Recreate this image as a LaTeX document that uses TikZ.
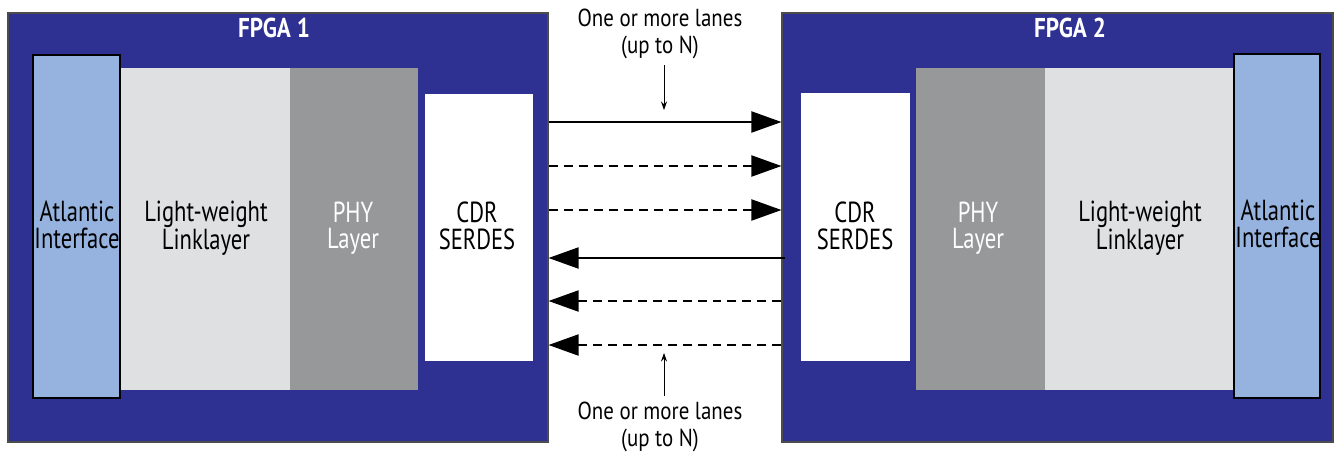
\documentclass[tikz,border=0pt]{standalone}
\usepackage{fontspec}
\setmainfont{PT Sans}[FakeStretch=0.85]
\newfontfamily\bodyfont{PT Sans}[FakeStretch=0.78]
\usetikzlibrary{fit,arrows.meta}
\definecolor{fpgablue}{HTML}{2E3192}
\definecolor{atlblue}{HTML}{95B3DE}
\definecolor{llgray}{HTML}{DFE0E2}
\definecolor{phygray}{HTML}{97989A}
\begin{document}
\begin{tikzpicture}[x=0.02cm,y=-0.02cm,
  font=\fontsize{14.5}{13.5}\selectfont,
  fpga/.style={fill=fpgablue, draw=black!70, line width=0.6pt, inner sep=0pt},
  title/.style={text=white, font=\fontsize{15.5}{15}\selectfont\bfseries},
  layer/.style={inner sep=0pt},
  atl/.style={layer, fill=atlblue, draw=black, line width=0.7pt},
  ll/.style={layer, fill=llgray},
  phy/.style={layer, fill=phygray},
  cdr/.style={layer, fill=white},
  ltext/.style={align=center, inner sep=0pt, font=\bodyfont\fontsize{16.5}{15}\selectfont},
  lane/.style={line width=1.1pt, -{Triangle[length=0.6cm,width=0.42cm]}},
  dlane/.style={lane, dash pattern=on 0.18cm off 0.12cm},
  note/.style={align=center, font=\fontsize{14}{15.5}\selectfont},
  pointer/.style={line width=0.4pt, -{Stealth[length=0.17cm,width=0.12cm]}}
]
\useasboundingbox (0,0) rectangle (1341,457);
% FPGA 1
\node[fpga, fit={(8,13) (548,442)}] (fpga1) {};
\node[title] (t1) at (274,28) {FPGA 1};
\node[ll,  fit={(120,68) (290,390)}] (ll1) {};
\node[phy, fit={(290,68) (418,390)}] (phy1) {};
\node[atl, fit={(33,55) (120,398)}] (atl1) {};
\node[cdr, fit={(425,94) (533,361)}] (cdr1) {};
\node[ltext] (ll1t) at (206,228) {Light-weight\\Linklayer};
\node[ltext, text=white] (phy1t) at (353,228) {PHY\\Layer};
\node[ltext] (atl1t) at (77,225) {Atlantic\\Interface};
\node[ltext] (cdr1t) at (477,226) {CDR\\SERDES};
% FPGA 2
\node[fpga, fit={(782,13) (1333,442)}] (fpga2) {};
\node[title] (t2) at (1070,28) {FPGA 2};
\node[cdr, fit={(801,93) (910,361)}] (cdr2) {};
\node[phy, fit={(916,68) (1045,390)}] (phy2) {};
\node[ll,  fit={(1045,68) (1234,390)}] (ll2) {};
\node[atl, fit={(1234,54) (1320,398)}] (atl2) {};
\node[ltext] (cdr2t) at (855,226) {CDR\\SERDES};
\node[ltext, text=white] (phy2t) at (978,228) {PHY\\Layer};
\node[ltext] (ll2t) at (1140,228) {Light-weight\\Linklayer};
\node[ltext] (atl2t) at (1278,224) {Atlantic\\Interface};
% lanes
\coordinate (l1) at (0,122);
\coordinate (l2) at (0,166);
\coordinate (l3) at (0,210);
\coordinate (l4) at (0,258);
\coordinate (l5) at (0,301);
\coordinate (l6) at (0,345);
\draw[lane]  (fpga1.east |- l1) -- (fpga2.west |- l1);
\draw[dlane] (fpga1.east |- l2) -- (fpga2.west |- l2);
\draw[dlane] (fpga1.east |- l3) -- (fpga2.west |- l3);
\draw[lane]  ([xshift=0.08cm]fpga2.west |- l4) -- (fpga1.east |- l4);
\draw[dlane] (fpga2.west |- l5) -- (fpga1.east |- l5);
\draw[dlane] (fpga2.west |- l6) -- (fpga1.east |- l6);
% notes
\node[note] (ntop) at (660,34) {One or more lanes\\(up to N)};
\node[note] (nbot) at (660,427) {One or more lanes\\(up to N)};
\coordinate (pt) at (664,110);
\coordinate (pb) at (664,353);
\draw[pointer] (ntop.south -| pt) -- (pt);
\draw[pointer] (nbot.north -| pb) -- (pb);
\end{tikzpicture}
\end{document}
